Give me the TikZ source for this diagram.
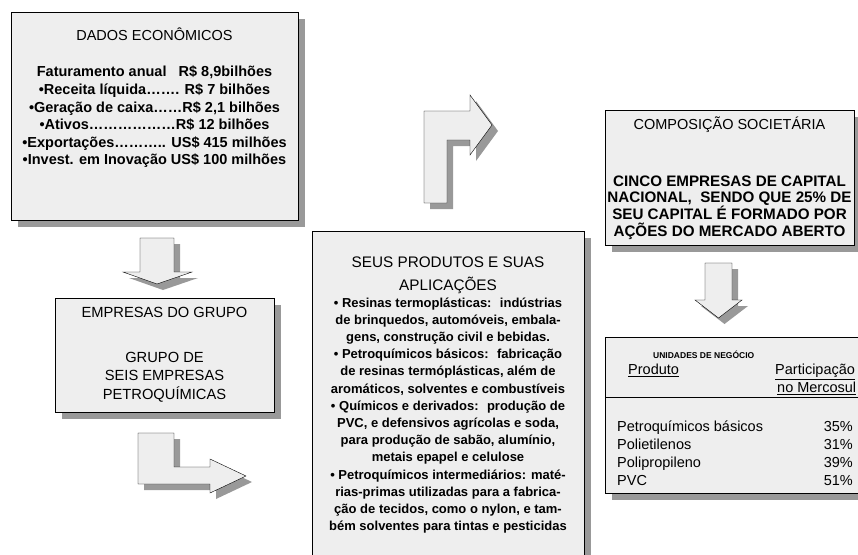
\documentclass[tikz,border=0pt]{standalone}
\usepackage{fontspec}
\setmainfont{Liberation Sans}
\usetikzlibrary{positioning,shadows}

\definecolor{boxfill}{HTML}{EEEEEE}
\definecolor{shade}{HTML}{999999}

\tikzset{
  box/.style={draw=black, fill=boxfill, inner sep=0pt, anchor=north west,
    drop shadow={shadow xshift=7pt, shadow yshift=-7pt, fill=shade, opacity=1}},
  bigarrow/.style={draw=black, fill=boxfill, line join=miter,
    drop shadow={shadow xshift=6pt, shadow yshift=-6pt, fill=shade, opacity=1}},
  txt/.style={align=center, inner sep=0pt},
  row/.style={inner sep=0pt, text height=10.5pt, text depth=3pt,
    font=\fontsize{14.5}{16}\selectfont},
}

\begin{document}
\begin{tikzpicture}[x=1pt, y=-1pt]

\useasboundingbox (0,0) rectangle (858,554);

% boxes
\node[box, minimum width=287pt, minimum height=208pt] (dados) at (11,12) {};
\node[box, minimum width=219pt, minimum height=114pt] (empresas) at (55,298) {};
\node[box, minimum width=272pt, minimum height=340pt] (produtos) at (312,231) {};
\node[box, minimum width=249pt, minimum height=135pt] (composicao) at (605,110) {};
\node[box, minimum width=275pt, minimum height=156pt] (unidades) at (605,337) {};

% block arrows
\filldraw[bigarrow] (140,238) -- (174,238) -- (174,272) -- (192,272) -- (157,284)
  -- (123,272) -- (140,272) -- cycle;
\filldraw[bigarrow] (138,433) -- (174,433) -- (174,467) -- (210,467) -- (210,459)
  -- (246,476) -- (210,493) -- (210,484) -- (138,484) -- cycle;
\filldraw[bigarrow] (424,203) -- (424,111) -- (470,111) -- (470,95) -- (492,125)
  -- (470,155) -- (470,140) -- (447,140) -- (447,203) -- cycle;
\filldraw[bigarrow] (705,263) -- (732,263) -- (732,300) -- (742,300) -- (718.5,318)
  -- (695,300) -- (705,300) -- cycle;

% dados economicos
\node[txt, font=\fontsize{14.5}{17.6}\selectfont] (dados_title) at (154.5,34) {DADOS ECONÔMICOS};
\node[txt, font=\bfseries\fontsize{14.5}{17.6}\selectfont] (dados_text) at (154.5,117) {%
  Faturamento anual \ \ R\$ 8,9bilhões\\
  •Receita líquida……. R\$ 7 bilhões\\
  •Geração de caixa……R\$ 2,1 bilhões\\
  •Ativos………………R\$ 12 bilhões\\
  •Exportações……….. US\$ 415 milhões\\
  •Invest. em Inovação US\$ 100 milhões};

% empresas do grupo
\node[txt, font=\fontsize{14.7}{18.5}\selectfont] (empresas_title) at (164.5,312) {EMPRESAS DO GRUPO};
\node[txt, font=\fontsize{14.7}{18.5}\selectfont] (empresas_text) at (164.5,377) {%
  GRUPO DE\\SEIS EMPRESAS\\PETROQUÍMICAS};

% produtos e aplicacoes
\node[txt, font=\fontsize{15.3}{23}\selectfont] (produtos_title) at (448,275) {%
  SEUS PRODUTOS E SUAS\\APLICAÇÕES};
\node[txt, font=\bfseries\fontsize{13}{17.2}\selectfont] (produtos_text) at (448,415.5) {%
  • Resinas termoplásticas: \ indústrias\\
  de brinquedos, automóveis, embala-\\
  gens, construção civil e bebidas.\\
  • Petroquímicos básicos: \ fabricação\\
  de resinas termóplásticas, além de\\
  aromáticos, solventes e combustíveis\\
  • Químicos e derivados: \ produção de\\
  PVC, e defensivos agrícolas e soda,\\
  para produção de sabão, alumínio,\\
  metais epapel e celulose\\
  • Petroquímicos intermediários: maté-\\
  rias-primas utilizadas para a fabrica-\\
  ção de tecidos, como o nylon, e tam-\\
  bém solventes para tintas e pesticidas};

% composicao societaria
\node[txt, font=\fontsize{14.5}{16.7}\selectfont] (composicao_title) at (729.5,125) {COMPOSIÇÃO SOCIETÁRIA};
\node[txt, font=\bfseries\fontsize{15.2}{16.7}\selectfont] (composicao_text) at (729.5,207.5) {%
  CINCO EMPRESAS DE CAPITAL\\
  NACIONAL, \ SENDO QUE 25\% DE\\
  SEU CAPITAL É FORMADO POR\\
  AÇÕES DO MERCADO ABERTO};

% unidades de negocio
\node[row, anchor=west, text height=7pt, text depth=0pt, font=\bfseries\fontsize{8.5}{10}\selectfont] (unidades_title) at (653,355) {UNIDADES DE NEGÓCIO};
\node[row, anchor=west] (col_produto) at (628,371) {\underline{Produto}};
\node[row, anchor=west] (col_part) at (775,371) {\underline{Participação}};
\node[row, anchor=west] (col_merc) at (777,388.5) {\underline{no Mercosul}};
\draw (605,397) -- (880,397);

\node[row, anchor=west] (p1) at (617,428) {Petroquímicos básicos};
\node[row, anchor=west] (p2) at (617,446) {Polietilenos};
\node[row, anchor=west] (p3) at (617,464) {Polipropileno};
\node[row, anchor=west] (p4) at (617,482) {PVC};
\node[row, anchor=east] (v1) at (853,428) {35\%};
\node[row, anchor=east] (v2) at (853,446) {31\%};
\node[row, anchor=east] (v3) at (853,464) {39\%};
\node[row, anchor=east] (v4) at (853,482) {51\%};

\end{tikzpicture}
\end{document}
